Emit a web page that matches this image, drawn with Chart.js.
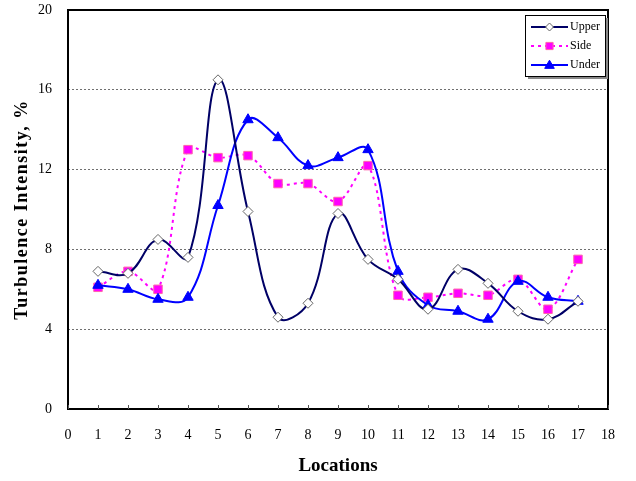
<!DOCTYPE html>
<html>
<head>
<meta charset="utf-8">
<script src="https://cdn.jsdelivr.net/npm/chart.js@4"></script>
<style>
  html, body { margin: 0; padding: 0; background: #fff; }
  #wrap { width: 636px; height: 481px; position: relative; }
</style>
</head>
<body>
<div id="wrap"><canvas id="chart" width="636" height="481"></canvas></div>
<script>
// 측정 위치 1..17
const locations = [1, 2, 3, 4, 5, 6, 7, 8, 9, 10, 11, 12, 13, 14, 15, 16, 17];
const upper = [6.9, 6.8, 8.5, 7.6, 16.5, 9.9, 4.6, 5.3, 9.8, 7.5, 6.5, 5.0, 7.0, 6.3, 4.9, 4.5, 5.4];
const side  = [6.1, 6.9, 6.0, 13.0, 12.6, 12.7, 11.3, 11.3, 10.4, 12.2, 5.7, 5.6, 5.8, 5.7, 6.5, 5.0, 7.5];
const under = [6.2, 6.0, 5.5, 5.6, 10.2, 14.5, 13.6, 12.2, 12.6, 13.0, 6.9, 5.2, 4.9, 4.5, 6.4, 5.6, 5.4];
const xTicks = [0, 18];   // min / max
const yTicks = [0, 20];
const yTitle = 'Turbulence Intensity, %';

const SERIF = '"Liberation Serif", "Times New Roman", serif';
const toXY = arr => arr.map((v, i) => ({ x: locations[i], y: v }));

/* 플롯 테두리 + x축 안쪽 눈금 + y축 제목 + 범례 */
const framePlugin = {
  id: 'frame',
  afterDraw(chart) {
    const { ctx, chartArea: a, scales } = chart;
    ctx.save();
    ctx.strokeStyle = '#000';
    ctx.lineWidth = 2;
    ctx.strokeRect(a.left, a.top, a.right - a.left, a.bottom - a.top);

    ctx.lineWidth = 1;
    ctx.strokeStyle = '#555';
    scales.x.ticks.forEach(t => {
      const px = Math.round(scales.x.getPixelForValue(t.value)) + 0.5;
      ctx.beginPath();
      ctx.moveTo(px, a.bottom);
      ctx.lineTo(px, a.bottom - 4);
      ctx.stroke();
    });

    // y title (letter-spaced like the original)
    ctx.save();
    ctx.translate(22, (a.top + a.bottom) / 2);
    ctx.rotate(-Math.PI / 2);
    ctx.font = 'bold 18px ' + SERIF;
    ctx.letterSpacing = '1.5px';
    ctx.fillStyle = '#000';
    ctx.textAlign = 'center';
    ctx.textBaseline = 'middle';
    ctx.fillText(yTitle, 0, 0);
    ctx.restore();

    // legend box
    const bx = a.right - 83, by = a.top + 5, bw = 80, bh = 61;
    ctx.fillStyle = '#888';
    ctx.fillRect(bx + 3, by + 3, bw, bh);
    ctx.fillStyle = '#fff';
    ctx.fillRect(bx, by, bw, bh);
    ctx.strokeStyle = '#000';
    ctx.lineWidth = 1;
    ctx.strokeRect(bx + 0.5, by + 0.5, bw, bh);
    ctx.font = '12px ' + SERIF;
    ctx.textBaseline = 'middle';
    chart.data.datasets.forEach((ds, i) => {
      const y = by + 12 + i * 19;
      const x0 = bx + 6, x1 = bx + 43;
      ctx.strokeStyle = ds.borderColor;
      ctx.lineWidth = 2;
      ctx.setLineDash(ds.borderDash || []);
      ctx.beginPath();
      ctx.moveTo(x0, y);
      ctx.lineTo(x1, y);
      ctx.stroke();
      ctx.setLineDash([]);
      const cx = (x0 + x1) / 2;
      const r = ds.pointRadius * 0.8;
      ctx.fillStyle = ds.pointBackgroundColor;
      ctx.strokeStyle = ds.pointBorderColor;
      ctx.lineWidth = 1;
      ctx.beginPath();
      if (ds.pointStyle === 'rectRot') {
        ctx.moveTo(cx, y - r); ctx.lineTo(cx + r, y); ctx.lineTo(cx, y + r); ctx.lineTo(cx - r, y);
      } else if (ds.pointStyle === 'rect') {
        ctx.rect(cx - r * 0.75, y - r * 0.75, r * 1.5, r * 1.5);
      } else {
        ctx.moveTo(cx, y - r); ctx.lineTo(cx + r, y + r * 0.7); ctx.lineTo(cx - r, y + r * 0.7);
      }
      ctx.closePath();
      ctx.fill();
      ctx.stroke();
      ctx.fillStyle = '#000';
      ctx.fillText(ds.label, x1 + 2, y);
    });
    ctx.restore();
  },
};

new Chart(document.getElementById('chart'), {
  type: 'line',
  data: {
    datasets: [
      {
        label: 'Upper', data: toXY(upper),
        borderColor: '#000066', borderWidth: 2, tension: 0.4,
        pointStyle: 'rectRot', pointRadius: 5,
        pointBackgroundColor: '#fff', pointBorderColor: '#666', pointBorderWidth: 1,
        order: 1,
      },
      {
        label: 'Side', data: toXY(side),
        borderColor: '#ff00ff', borderWidth: 2, borderDash: [3, 4], tension: 0.35,
        pointStyle: 'rect', pointRadius: 6,
        pointBackgroundColor: '#ff00ff', pointBorderColor: '#ff66aa', pointBorderWidth: 1,
        order: 3,
      },
      {
        label: 'Under', data: toXY(under),
        borderColor: '#0000ff', borderWidth: 2, tension: 0.4,
        pointStyle: 'triangle', pointRadius: 6,
        pointBackgroundColor: '#0000ff', pointBorderColor: '#0000ff', pointBorderWidth: 1,
        order: 2,
      },
    ],
  },
  options: {
    responsive: false,
    animation: false,
    layout: { padding: { left: 0, right: 28, top: 10, bottom: 0 } },
    plugins: { legend: { display: false }, tooltip: { enabled: false } },
    scales: {
      x: {
        type: 'linear', min: xTicks[0], max: xTicks[1],
        border: { display: false },
        grid: { display: false },
        ticks: { stepSize: 1, color: '#000', padding: 10, font: { family: SERIF, size: 14 } },
        title: { display: true, text: 'Locations', color: '#000', padding: { top: 12 },
          font: { family: SERIF, size: 19, weight: 'bold' } },
        afterFit: s => { s.height = 72; s.paddingLeft = 0; s.paddingRight = 0; },
      },
      y: {
        min: yTicks[0], max: yTicks[1],
        border: { display: false, dash: [2, 2] },
        grid: {
          drawTicks: false,
          color: c => (c.tick.value > 0 && c.tick.value < 20 ? '#707070' : 'rgba(0,0,0,0)'),
          lineWidth: 1,
        },
        ticks: { stepSize: 4, color: '#000', padding: 16, font: { family: SERIF, size: 14 } },
        afterFit: s => { s.width = 68; s.paddingTop = 0; s.paddingBottom = 0; },
      },
    },
  },
  plugins: [framePlugin],
});
</script>
</body>
</html>
